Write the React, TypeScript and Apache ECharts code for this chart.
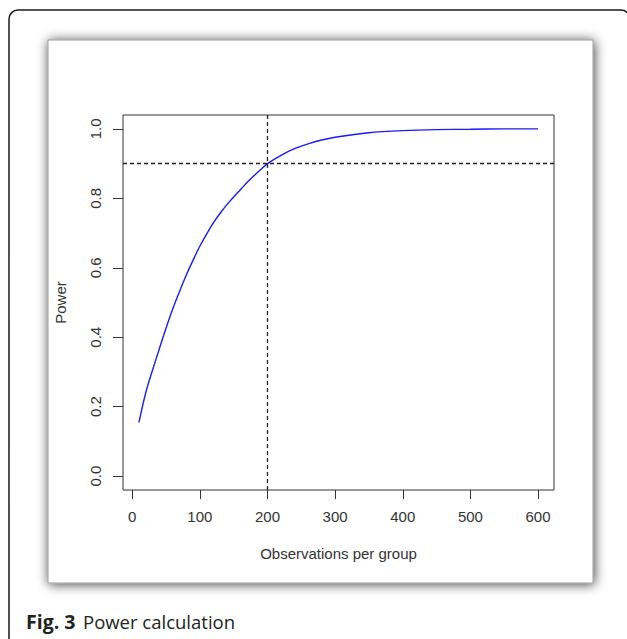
import React, { useEffect, useRef } from "react";
import * as echarts from "echarts";

const sampleSizes = [10, 20, 30, 40, 50, 60, 70, 80, 90, 100, 110, 120, 130, 140, 150, 160, 170, 180, 190, 200, 220, 240, 260, 280, 300, 350, 400, 450, 500, 550, 600];
const powerValues = [0.155, 0.24, 0.305, 0.366, 0.426, 0.482, 0.532, 0.579, 0.622, 0.662, 0.697, 0.729, 0.757, 0.782, 0.804, 0.825, 0.846, 0.865, 0.883, 0.9, 0.924, 0.943, 0.957, 0.968, 0.976, 0.989, 0.995, 0.998, 0.999, 1.0, 1.0];
const xTicks = [0, 100, 200, 300, 400, 500, 600];
const yTicks = [0, 0.2, 0.4, 0.6, 0.8, 1.0];
const refX = 200;
const refY = 0.9;
const xTitle = "Observations per group";
const yTitle = "Power";
const captionBold = "Fig. 3";
const captionText = "Power calculation";

const FONT = "Liberation Sans";

export default function App() {
  const ref = useRef<HTMLDivElement>(null);
  useEffect(() => {
    if (!ref.current) return;
    const chart = echarts.init(ref.current, null, { renderer: "svg" });
    const data = sampleSizes.map((n, i) => [n, powerValues[i]]);
    const labelStyle = {
      fontFamily: FONT,
      fontSize: 15,
      fontWeight: "normal" as const,
      color: "#333",
    };
    chart.setOption({
      animation: false,
      backgroundColor: "#ffffff",
      grid: {
        left: 123,
        right: 73,
        top: 115,
        bottom: 149,
        show: true,
        borderColor: "#333",
        borderWidth: 1,
        backgroundColor: "transparent",
      },
      xAxis: {
        type: "value",
        min: -13.6,
        max: 623.6,
        name: xTitle,
        nameLocation: "middle",
        nameGap: 56,
        nameTextStyle: labelStyle,
        axisLine: { show: false, onZero: false },
        splitLine: { show: false },
        axisTick: {
          show: true,
          inside: false,
          length: 9,
          customValues: xTicks,
          lineStyle: { color: "#333", width: 1 },
        },
        axisLabel: {
          customValues: xTicks,
          margin: 19,
          ...labelStyle,
        },
      },
      yAxis: {
        type: "value",
        min: -0.04,
        max: 1.04,
        name: yTitle,
        nameLocation: "middle",
        nameGap: 55,
        nameRotate: 90,
        nameTextStyle: labelStyle,
        axisLine: { show: false, onZero: false },
        splitLine: { show: false },
        axisTick: {
          show: true,
          inside: false,
          length: 10,
          customValues: yTicks,
          lineStyle: { color: "#333", width: 1 },
        },
        axisLabel: {
          customValues: yTicks,
          rotate: 90,
          margin: 20,
          ...labelStyle,
          formatter: (v: number) => v.toFixed(1),
        },
      },
      graphic: [
        {
          type: "rect",
          z: -10,
          shape: { x: 9, y: 10, width: 621, height: 660, r: 9 },
          style: { fill: "#fff", stroke: "#1a1a1a", lineWidth: 1.5 },
        },
        {
          type: "rect",
          z: -5,
          shape: { x: 48, y: 40, width: 545, height: 543 },
          style: {
            fill: "#fff",
            stroke: "#999",
            lineWidth: 1,
            shadowBlur: 12,
            shadowOffsetX: 1,
            shadowOffsetY: 1,
            shadowColor: "rgba(0,0,0,0.75)",
          },
        },
        {
          type: "text",
          x: 26,
          y: 631,
          style: {
            text: captionBold,
            font: "bold 19.5px 'Open Sans', sans-serif",
            fill: "#222",
            verticalAlign: "bottom",
          },
        },
        {
          type: "text",
          x: 83,
          y: 631,
          style: {
            text: captionText,
            font: "18.5px 'Open Sans', sans-serif",
            fill: "#222",
            verticalAlign: "bottom",
          },
        },
      ],
      series: [
        {
          type: "line",
          data,
          showSymbol: false,
          symbol: "none",
          smooth: 0.3,
          lineStyle: { color: "#1a1aff", width: 1.4 },
          markLine: {
            silent: true,
            symbol: "none",
            label: { show: false },
            lineStyle: { color: "#222", width: 1.3, type: [4, 3] },
            data: [{ xAxis: refX }, { yAxis: refY }],
          },
        },
      ],
    });
    return () => chart.dispose();
  }, []);
  return (
    <div
      ref={ref}
      style={{ position: "fixed", left: 0, top: 0, width: 627, height: 639 }}
    />
  );
}
